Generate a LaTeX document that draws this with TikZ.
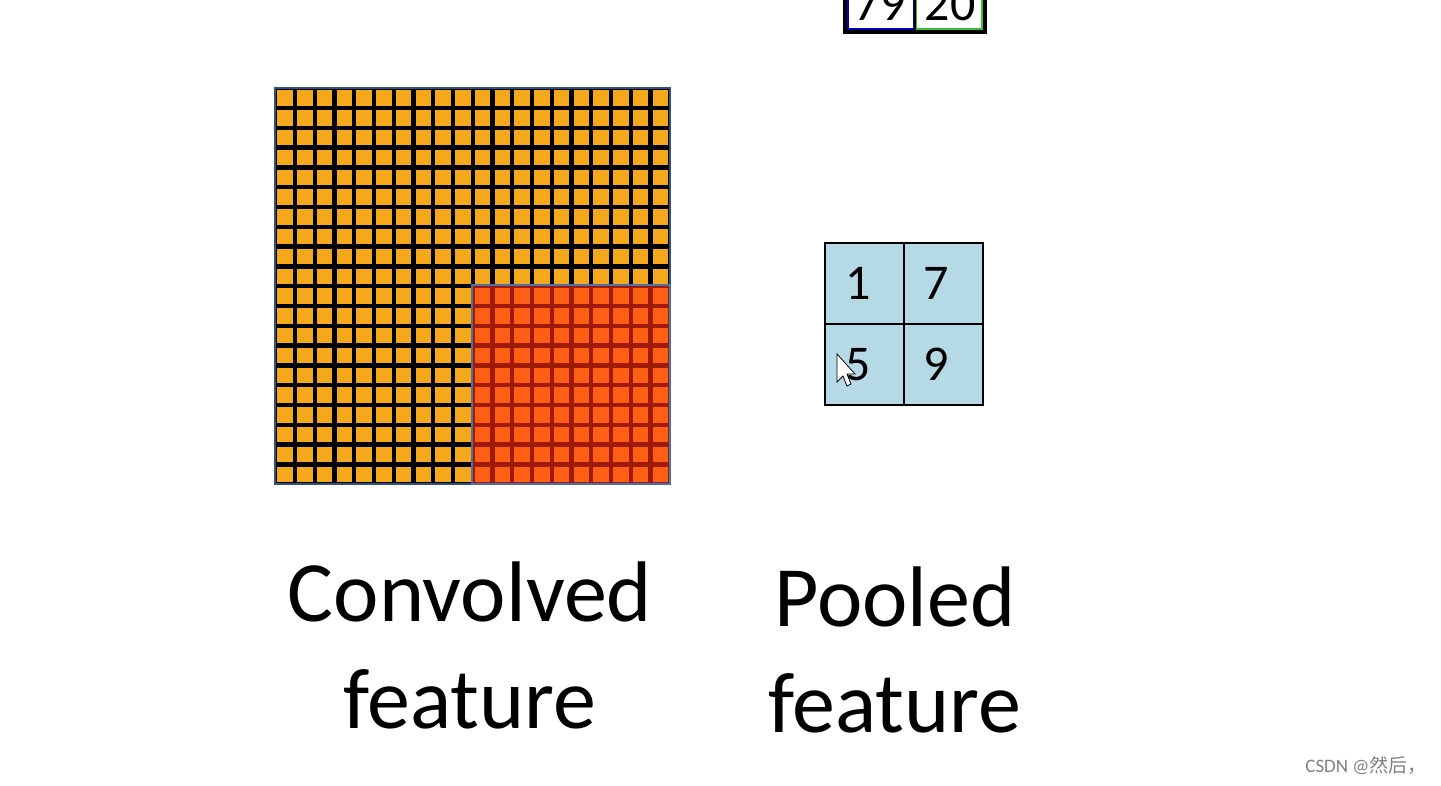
\documentclass[tikz,border=0pt]{standalone}
\usepackage{fontspec}
\setmainfont{Carlito}
\newfontfamily\cjk{Noto Sans CJK SC}
\begin{document}
\begin{tikzpicture}[x=1pt,y=-1pt,
  big/.style={font=\fontsize{86}{90}\selectfont, anchor=base},
  num/.style={font=\fontsize{50}{52}\selectfont},
  cell/.style={draw=black,line width=2.5pt,fill=cellblue}]
\definecolor{cellblue}{HTML}{B5DAE6}
\definecolor{orng}{HTML}{F5A81C}
\definecolor{redo}{HTML}{FF5E14}
\definecolor{darkred}{HTML}{A01A0A}
\definecolor{steel}{HTML}{4A72A8}
\useasboundingbox (0,0) rectangle (1441,785);
\fill[white] (0,0) rectangle (1441,785);
% top partial box
\node[draw=black,line width=4pt,minimum width=140pt,minimum height=60pt,inner sep=0] (top) at (915,2) {};
\draw[blue!70!black,line width=1.5pt] (848,-30) rectangle (914,29);
\draw[green!70!black!80,line width=1.5pt] (916,-30) rectangle (982,29);
\draw[black,line width=2pt] (top.north) -- (top.south);
\node[num] (t1) at (880,4) {79};
\node[num] (t2) at (950,4) {20};
% grid
\fill[black] (275,88) rectangle (670,484);
\foreach \i in {0,...,19}{\foreach \j in {0,...,19}{
  \pgfmathsetmacro{\xx}{275+\i*19.75}\pgfmathsetmacro{\yy}{88+\j*19.8}
  \fill[orng] (\xx+2.3,\yy+2.3) rectangle ++(15.5,15.5);}}
\fill[darkred] (472,285) rectangle (670,484);
\foreach \i in {10,...,19}{\foreach \j in {10,...,19}{
  \pgfmathsetmacro{\xx}{275+\i*19.75}\pgfmathsetmacro{\yy}{88+\j*19.8}
  \fill[redo] (\xx+2.3,\yy+2.3) rectangle ++(15.5,15.5);}}
\node[draw=steel!70!black,line width=2pt,minimum width=395pt,minimum height=396pt,inner sep=0] (conv) at (472.5,286) {};
\node[draw=steel,line width=2.5pt,minimum width=198pt,minimum height=199pt,inner sep=0] (sub) at (571,384.5) {};
% pooled
\node[cell,minimum width=79pt,minimum height=81pt] (p1) at (864.5,283.5) {};
\node[cell,minimum width=79pt,minimum height=81pt] (p2) at (943.5,283.5) {};
\node[cell,minimum width=79pt,minimum height=81pt] (p3) at (864.5,364.5) {};
\node[cell,minimum width=79pt,minimum height=81pt] (p4) at (943.5,364.5) {};
\node[num] at ([xshift=-6pt]p1) {1};
\node[num] at ([xshift=-7pt]p2) {7};
\node[num] at ([xshift=-6pt]p3) {5};
\node[num] at ([xshift=-7pt]p4) {9};
% cursor
\draw[black,fill=white,line width=0.8pt] (837,354) -- (837,382) -- (843,376) -- (847,386) -- (851,384) -- (847,374) -- (855,374) -- cycle;
% labels
\node[big] (l1) at (470,621) {Convolved};
\node[big] (l2) at (470,728) {feature};
\node[big] (l3) at (895,626) {Pooled};
\node[big] (l4) at (895,732) {feature};
\node[anchor=base east,text=gray,font=\fontsize{19}{20}\selectfont] (wm) at (1430,772) {CSDN @{\cjk 然后，}};
\end{tikzpicture}
\end{document}
